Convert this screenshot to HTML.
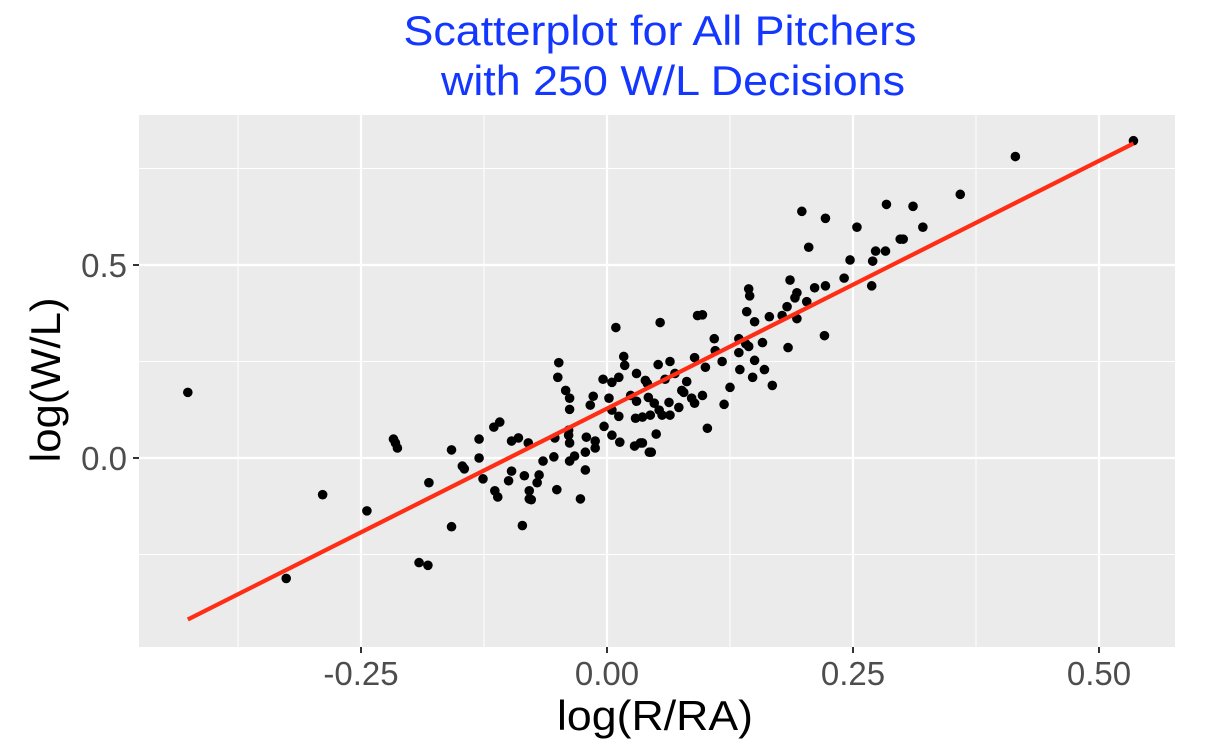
<!DOCTYPE html>
<html><head><meta charset="utf-8"><style>
html,body{margin:0;padding:0;background:#fff;}
svg{display:block;font-family:"Liberation Sans",Arial,sans-serif;}
</style></head><body>
<svg id="chart" width="1212" height="756" viewBox="0 0 1212 756">
<text x="660" y="45" text-anchor="middle" font-size="42" fill="#1437ff" textLength="513" lengthAdjust="spacingAndGlyphs">Scatterplot for All Pitchers</text>
<text x="673" y="95" text-anchor="middle" font-size="42" fill="#1437ff" textLength="464" lengthAdjust="spacingAndGlyphs">with 250 W/L Decisions</text>
<rect x="139" y="115" width="1036" height="532" fill="#ebebeb"/>
<g id="grid"></g>
<g id="axes"></g>
<g id="points"></g>
<g id="fit"></g>
<text x="655" y="730" text-anchor="middle" font-size="42" fill="#000" textLength="196" lengthAdjust="spacingAndGlyphs">log(R/RA)</text>
<text transform="translate(60,380) rotate(-90)" text-anchor="middle" font-size="42" fill="#000" textLength="165" lengthAdjust="spacingAndGlyphs">log(W/L)</text>
</svg>
<script>
const xVals=[-0.426,-0.326,-0.289,-0.244,-0.217,-0.215,-0.213,-0.191,-0.182,-0.181,-0.158,-0.158,-0.147,-0.145,-0.130,-0.130,-0.126,-0.115,-0.109,-0.114,-0.111,-0.100,-0.097,-0.097,-0.090,-0.086,-0.084,-0.080,-0.079,-0.079,-0.077,-0.071,-0.069,-0.065,-0.054,-0.053,-0.051,-0.050,-0.049,-0.042,-0.038,-0.038,-0.039,-0.039,-0.038,-0.038,-0.033,-0.027,-0.022,-0.022,-0.021,-0.017,-0.014,-0.012,-0.012,-0.003,-0.004,0.005,0.012,0.009,0.017,0.018,0.002,0.005,0.012,0.030,0.039,0.024,0.030,0.029,0.005,0.013,0.028,0.034,0.043,0.041,0.042,0.048,0.044,0.036,0.053,0.063,0.064,0.056,0.073,0.078,0.086,0.089,0.097,0.052,0.064,0.054,0.089,0.092,0.097,0.100,0.102,0.109,0.110,0.117,0.050,0.036,0.045,0.059,0.069,0.081,0.134,0.144,0.141,0.158,0.184,0.134,0.135,0.150,0.160,0.148,0.125,0.168,0.119,0.142,0.150,0.165,0.178,0.193,0.183,0.203,0.193,0.191,0.144,0.145,0.186,0.211,0.222,0.241,0.221,0.205,0.247,0.273,0.283,0.270,0.269,0.535,0.415,0.359,0.284,0.311,0.198,0.222,0.254,0.321,0.298,0.301,0.076];
const yVals=[0.170,-0.312,-0.095,-0.137,0.049,0.039,0.026,-0.271,-0.278,-0.064,0.021,-0.178,-0.021,-0.028,0.049,0.000,-0.054,0.080,0.093,-0.085,-0.101,-0.059,-0.034,0.044,0.052,-0.175,-0.046,0.039,-0.085,-0.106,-0.108,-0.064,-0.044,-0.008,0.003,0.052,-0.082,0.209,0.247,0.175,0.155,0.126,0.072,0.059,0.039,-0.008,0.005,-0.106,0.015,-0.031,0.054,0.137,0.160,0.044,0.026,0.082,0.204,0.196,0.209,0.338,0.263,0.240,0.155,0.124,0.108,0.219,0.201,0.162,0.147,0.103,0.059,0.041,0.031,0.039,0.015,0.193,0.157,0.142,0.111,0.106,0.124,0.144,0.111,0.111,0.131,0.170,0.155,0.142,0.162,0.242,0.250,0.351,0.260,0.369,0.371,0.235,0.077,0.309,0.278,0.250,0.062,0.039,0.015,0.204,0.219,0.198,0.309,0.289,0.296,0.299,0.286,0.273,0.229,0.253,0.229,0.209,0.183,0.188,0.139,0.379,0.353,0.366,0.369,0.361,0.392,0.405,0.428,0.415,0.438,0.420,0.461,0.441,0.446,0.466,0.317,0.546,0.513,0.536,0.536,0.510,0.446,0.822,0.781,0.683,0.657,0.652,0.639,0.621,0.598,0.598,0.567,0.567,0.175];
const xTicks=[-0.25,0,0.25,0.5];
const xTickLabels=["-0.25","0.00","0.25","0.50"];
const xMinor=[-0.375,-0.125,0.125,0.375];
const yTicks=[0,0.5];
const yTickLabels=["0.0","0.5"];
const yMinor=[-0.25,0.25,0.75];

const NS="http://www.w3.org/2000/svg";
const X0=139,X1=1175,Y0=115,Y1=647;
function sx(v){return 607+984*v;}
function sy(v){return 458-386*v;}
function mk(tag,attrs,parent){const e=document.createElementNS(NS,tag);for(const k in attrs)e.setAttribute(k,attrs[k]);parent.appendChild(e);return e;}
const grid=document.getElementById('grid'),axes=document.getElementById('axes'),pts=document.getElementById('points'),fit=document.getElementById('fit');
xMinor.forEach(v=>{const l=mk('line',{x1:sx(v),x2:sx(v),y1:Y0,y2:Y1,stroke:'#fff','stroke-width':1},grid);

});
yMinor.forEach(v=>{const l=mk('line',{x1:X0,x2:X1,y1:sy(v),y2:sy(v),stroke:'#fff','stroke-width':1},grid);

});
xTicks.forEach((v,i)=>{const l=mk('line',{x1:sx(v),x2:sx(v),y1:Y0,y2:Y1,stroke:'#fff','stroke-width':2.2},grid);


const t=mk('line',{x1:sx(v),x2:sx(v),y1:Y1,y2:Y1+6,stroke:'#333','stroke-width':2},axes);


const tx=mk('text',{x:sx(v),y:685,'text-anchor':'middle','font-size':33,fill:'#4d4d4d'},axes);
tx.textContent=xTickLabels[i];

});
yTicks.forEach((v,i)=>{const l=mk('line',{x1:X0,x2:X1,y1:sy(v),y2:sy(v),stroke:'#fff','stroke-width':2.2},grid);


const t=mk('line',{x1:X0-6,x2:X0,y1:sy(v),y2:sy(v),stroke:'#333','stroke-width':2},axes);


const tx=mk('text',{x:127,y:sy(v)+12,'text-anchor':'end','font-size':33,fill:'#4d4d4d'},axes);
tx.textContent=yTickLabels[i];

});
xVals.forEach((v,i)=>{const c=mk('circle',{cx:sx(v),cy:sy(yVals[i]),r:4.8,fill:'#000'},pts);

});
const n=xVals.length;let mx=0,my=0;for(let i=0;i<n;i++){mx+=xVals[i];my+=yVals[i];}mx/=n;my/=n;
let sxy=0,sxx=0;for(let i=0;i<n;i++){sxy+=(xVals[i]-mx)*(yVals[i]-my);sxx+=(xVals[i]-mx)**2;}
const b=sxy/sxx,a=my-b*mx;const xmin=Math.min(...xVals),xmax=Math.max(...xVals);
const fl=mk('line',{x1:sx(xmin),y1:sy(a+b*xmin),x2:sx(xmax),y2:sy(a+b*xmax),stroke:'#ff2d14','stroke-width':4.2},fit);


</script>
</body></html>
